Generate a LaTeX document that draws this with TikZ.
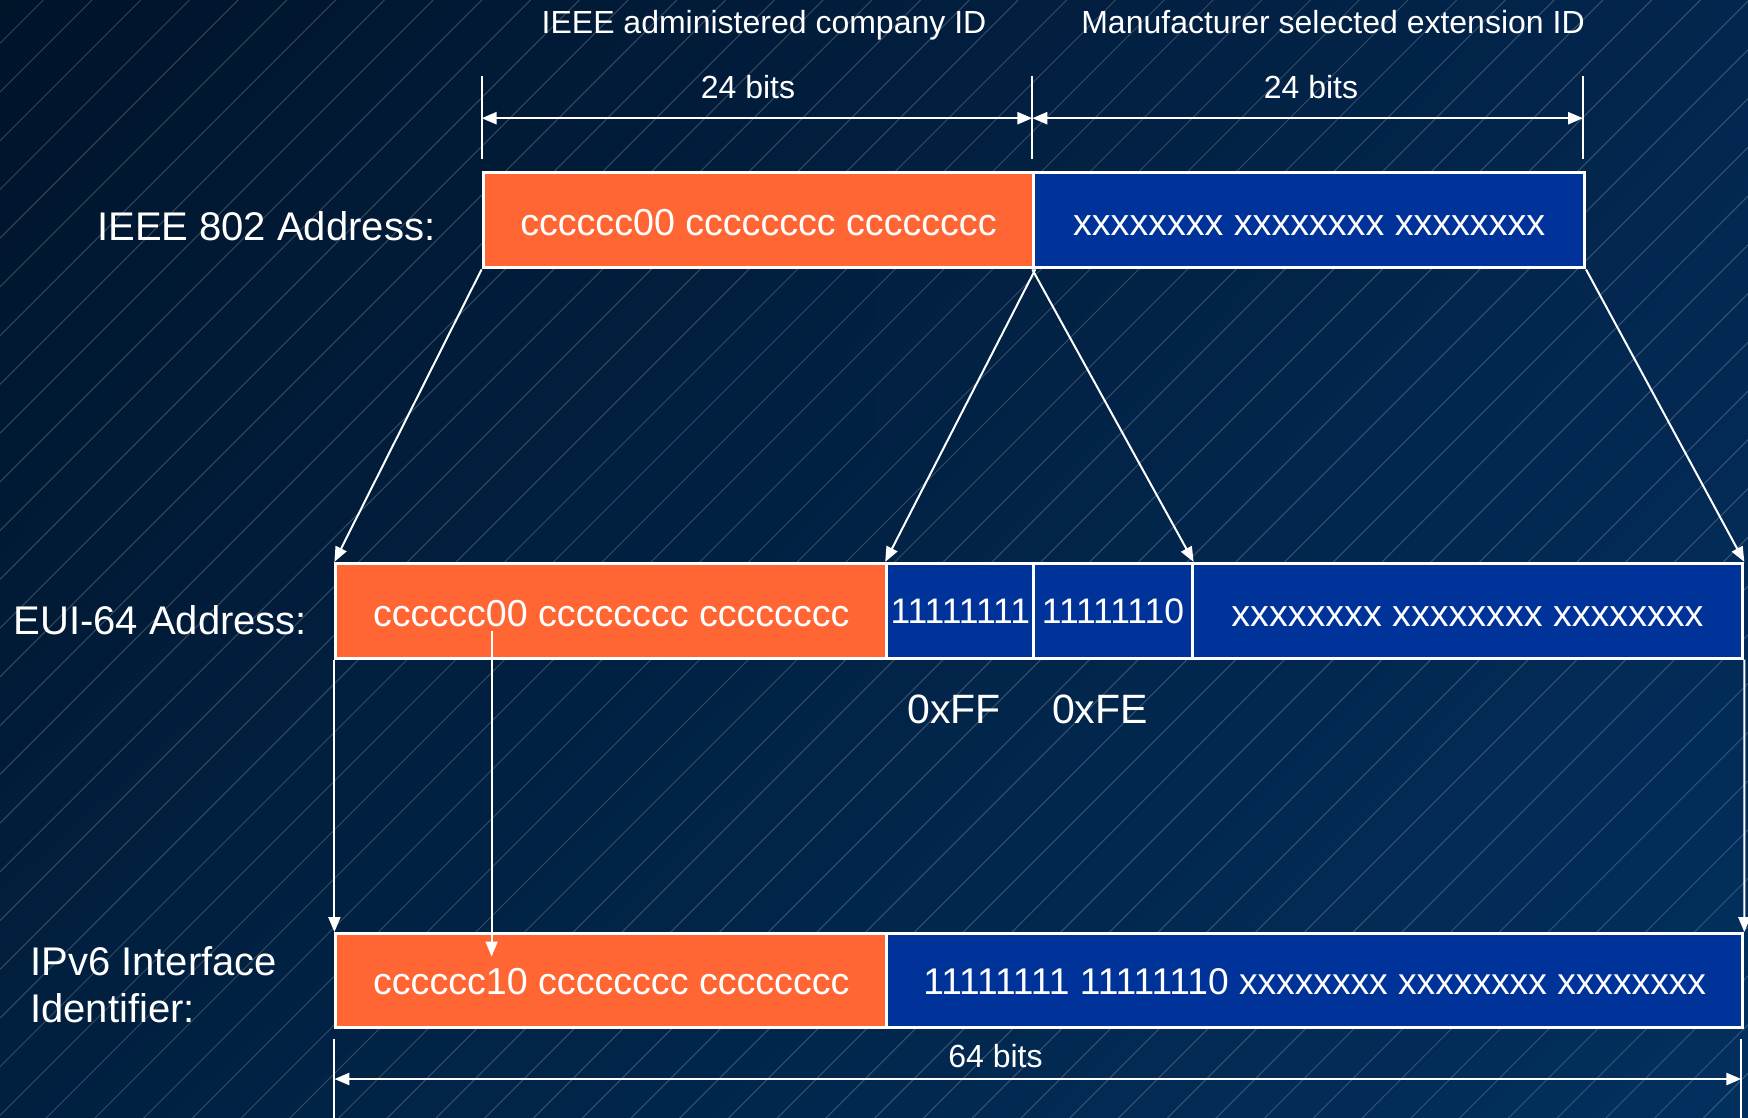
\documentclass[tikz,border=0pt]{standalone}
\usepackage{fontspec}
\setmainfont{Liberation Sans}
\usetikzlibrary{arrows.meta,shadings}
\definecolor{fieldorange}{RGB}{255,102,51}
\definecolor{fieldblue}{RGB}{0,51,153}
\definecolor{bgUL}{RGB}{0,20,42}
\definecolor{bgUR}{RGB}{3,38,78}
\definecolor{bgLL}{RGB}{1,32,64}
\definecolor{bgLR}{RGB}{2,48,94}
\begin{document}
\begin{tikzpicture}[x=1pt,y=-1pt,
  field/.style={draw=white, line width=3pt, inner sep=0pt, text=white,
    font=\fontsize{37.6}{44}\selectfont, anchor=north west,
    text height=31pt, text depth=0pt},
  cfield/.style={field, fill=fieldorange},
  xfield/.style={field, fill=fieldblue},
  link/.style={white, line width=2pt, -{Triangle[length=15pt,width=12pt]}},
  dimline/.style={white, line width=2.5pt,
    {Triangle[length=15pt,width=12pt]}-{Triangle[length=15pt,width=12pt]}},
  tickline/.style={white, line width=2pt},
  hatch/.style={white, opacity=0.2, line width=1pt},
  lbl/.style={text=white, font=\fontsize{40}{48}\selectfont, inner sep=0pt},
  hexlbl/.style={lbl, font=\fontsize{41}{48}\selectfont},
  smalllbl/.style={text=white, font=\fontsize{32}{38}\selectfont, inner sep=0pt},
]
% background: dark gradient with fine diagonal hatching
\useasboundingbox (0,0) rectangle (1748,1118);
\shade[upper left=bgUL, upper right=bgUR, lower left=bgLL, lower right=bgLR]
  (0,0) rectangle (1748,1118);
\begin{scope}
  \clip (0,0) rectangle (1748,1118);
  \foreach \k in {0,...,60} {
    \draw[hatch] ({-5.5+48.74*\k},0) -- (0,{-5.5+48.74*\k});
  }
\end{scope}

% headings
\node[smalllbl, anchor=base] (hdrC) at (764,34) {IEEE administered company ID};
\node[smalllbl, anchor=base] (hdrX) at (1333,34) {Manufacturer selected extension ID};

% 24-bit dimension marks
\coordinate (t1a) at (481.6,75.8);  \coordinate (t1b) at (481.6,159.4);
\coordinate (t2a) at (1032.3,75.8); \coordinate (t2b) at (1032.3,159.4);
\coordinate (t3a) at (1583,75.8);   \coordinate (t3b) at (1583,159.4);
\draw[tickline] (t1a) -- (t1b);
\draw[tickline] (t2a) -- (t2b);
\draw[tickline] (t3a) -- (t3b);
\coordinate (d1) at (481.6,118.2);
\coordinate (d2) at (1032.3,118.2);
\coordinate (d3) at (1583,118.2);
\draw[dimline] (d1) -- (d2);
\draw[dimline] (d2) -- (d3);
\node[smalllbl, anchor=base] (bitsC) at (748,98.4) {24 bits};
\node[smalllbl, anchor=base] (bitsX) at (1311,98.4) {24 bits};

% IEEE 802 address
\node[lbl, anchor=base west] (ieeeLbl) at (97,240.5) {IEEE 802 Address:};
\node[cfield, minimum width=550.7pt, minimum height=95.8pt] (ieeeC) at (481.6,170.6)
  {cccccc00 cccccccc cccccccc};
\node[xfield, minimum width=550.7pt, minimum height=95.8pt] (ieeeX) at (1032.3,170.6)
  {xxxxxxxx xxxxxxxx xxxxxxxx};

% EUI-64 address
\node[lbl, anchor=base west] (euiLbl) at (13.4,634.3) {EUI-64 Address:};
\node[cfield, minimum width=550.8pt, minimum height=94.7pt, text height=32pt]
  (eui1) at (334.4,561.9) {cccccc00 cccccccc cccccccc};
\node[xfield, minimum width=147.1pt, minimum height=94.7pt, text height=25.4pt,
  font=\fontsize{35.5}{40}\selectfont] (eui2) at (885.2,561.9) {11111111};
\node[xfield, minimum width=158.3pt, minimum height=94.7pt, text height=25.4pt,
  font=\fontsize{35.5}{40}\selectfont] (eui3) at (1032.3,561.9) {11111110};
\node[xfield, minimum width=550.7pt, minimum height=94.7pt, text height=32pt]
  (eui4) at (1190.6,561.9) {xxxxxxxx xxxxxxxx xxxxxxxx};
\node[hexlbl, anchor=base] (hexFF) at (954,723.5) {0xFF};
\node[hexlbl, anchor=base] (hexFE) at (1100,723.5) {0xFE};

% IPv6 interface identifier
\node[lbl, anchor=base west] (ipvLblA) at (30,975) {IPv6 Interface};
\node[lbl, anchor=base west] (ipvLblB) at (30,1022.7) {Identifier:};
\node[cfield, minimum width=550.8pt, minimum height=93.6pt, text height=29pt]
  (ipv1) at (334.4,932) {cccccc10 cccccccc cccccccc};
\node[xfield, minimum width=856.1pt, minimum height=93.6pt, text height=29pt,
  font=\fontsize{37.2}{44}\selectfont] (ipv2) at (885.2,932)
  {11111111 11111110 xxxxxxxx xxxxxxxx xxxxxxxx};

% mapping arrows
\draw[link] (ieeeC.south west) -- (eui1.north west);
\draw[link] (ieeeC.south east) -- (eui2.north west);
\draw[link] (ieeeX.south west) -- (eui3.north east);
\draw[link] (ieeeX.south east) -- (eui4.north east);
\draw[link] (eui1.south west) -- (ipv1.north west);
\draw[link] (eui4.south east) -- (ipv2.north east);
\coordinate (ulbitSrc) at (491.6,631);
\coordinate (ulbitDst) at (491.6,956.5);
\draw[link] (ulbitSrc) -- (ulbitDst);

% 64-bit dimension mark
\coordinate (b1a) at (334.4,1039); \coordinate (b1b) at (334.4,1118);
\coordinate (b2a) at (1741.3,1039); \coordinate (b2b) at (1741.3,1118);
\draw[tickline] (b1a) -- (b1b);
\draw[tickline] (b2a) -- (b2b);
\coordinate (e1) at (334.4,1079);
\coordinate (e2) at (1741.3,1079);
\draw[dimline] (e1) -- (e2);
\node[smalllbl, anchor=base] (bits64) at (995.5,1067) {64 bits};
\end{tikzpicture}
\end{document}
